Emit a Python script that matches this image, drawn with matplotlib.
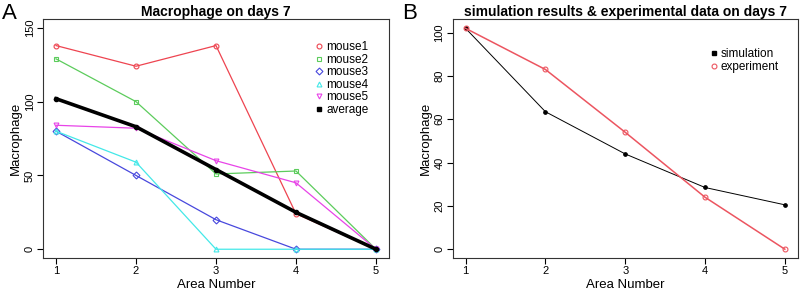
import matplotlib.pyplot as plt
from matplotlib.lines import Line2D

plt.rcParams['font.family'] = ['Liberation Sans', 'DejaVu Sans']

areas = [1, 2, 3, 4, 5]
mouse1 = [138, 124, 138, 24, 0]
mouse2 = [129, 100, 51, 53, 0]
mouse3 = [80, 50, 20, 0, 0]
mouse4 = [80, 59, 0, 0, 0]
mouse5 = [84, 82, 60, 45, 0]
average = [102, 83, 54, 25, 0]

simulation = [102, 63.5, 44, 28.5, 20.5]
experiment = [102, 83, 54, 24, 0]

mice = [("mouse1", mouse1, "#EE4450", "o"),
        ("mouse2", mouse2, "#5CCC5C", "s"),
        ("mouse3", mouse3, "#4848DD", "D"),
        ("mouse4", mouse4, "#44E8E8", "^"),
        ("mouse5", mouse5, "#E844E8", "v")]

fig = plt.figure(figsize=(8, 2.97), dpi=100)
axA = fig.add_axes([0.054, 0.131, 0.432, 0.805])
axB = fig.add_axes([0.566, 0.131, 0.431, 0.805])

# panel A
handles = []
for name, vals, col, mk in mice:
    axA.plot(areas, vals, color=col, lw=0.9, marker=mk, ms=3.5,
             mfc='none', mec=col, mew=0.8)
    handles.append(Line2D([], [], ls='none', marker=mk, ms=3.5, mfc='none',
                          mec=col, mew=0.8, label=name))
axA.plot(areas, average, color='black', lw=2.6, marker='o', ms=3)
handles.append(Line2D([], [], ls='none', marker='s', ms=2.3, color='black',
                      label='average'))
axA.set_xlim(0.84, 5.16)
axA.set_ylim(-6, 156)
axA.set_yticks([0, 50, 100, 150])
axA.set_title("Macrophage on days 7", fontsize=10, fontweight='bold', pad=2)
axA.set_xlabel("Area Number", fontsize=9.5, labelpad=2)
axA.set_ylabel("Macrophage", fontsize=9.5, labelpad=2)
axA.legend(handles=handles, loc='upper right', bbox_to_anchor=(0.965, 0.942),
           frameon=False, fontsize=8.5, handlelength=0.6, handletextpad=0.3,
           labelspacing=0.05, borderpad=0.2)

# panel B
axB.plot(areas, simulation, color='black', lw=0.7, marker='o', ms=2.4)
axB.plot(areas, experiment, color='#EC5560', lw=1.1, marker='o', ms=3.5,
         mfc='none', mew=0.8)
hB = [Line2D([], [], ls='none', marker='s', ms=2.3, color='black',
             label='simulation'),
      Line2D([], [], ls='none', marker='o', ms=3.5, mfc='none',
             mec='#EC5560', mew=0.8, label='experiment')]
axB.set_xlim(0.84, 5.16)
axB.set_ylim(-4.1, 106.3)
axB.set_yticks([0, 20, 40, 60, 80, 100])
axB.set_title("simulation results & experimental data on days 7", fontsize=10,
              fontweight='bold', pad=2)
axB.set_xlabel("Area Number", fontsize=9.5, labelpad=2)
axB.set_ylabel("Macrophage", fontsize=9.5, labelpad=2)
axB.legend(handles=hB, loc='upper right', bbox_to_anchor=(0.97, 0.913),
           frameon=False, fontsize=8.5, handlelength=0.6, handletextpad=0.3,
           labelspacing=0.05, borderpad=0.2)

for ax in (axA, axB):
    ax.set_xticks(areas)
    ax.tick_params(labelsize=8, length=4, width=0.8, pad=2)
    for lab in ax.get_yticklabels():
        lab.set_rotation(90)
        lab.set_va('center')
    for sp in ax.spines.values():
        sp.set_linewidth(0.8)
        sp.set_color('#333333')

fig.text(0.003, 0.99, "A", fontsize=16, va='top', ha='left')
fig.text(0.503, 0.99, "B", fontsize=16, va='top', ha='left')

fig.savefig("out.png", dpi=100)
